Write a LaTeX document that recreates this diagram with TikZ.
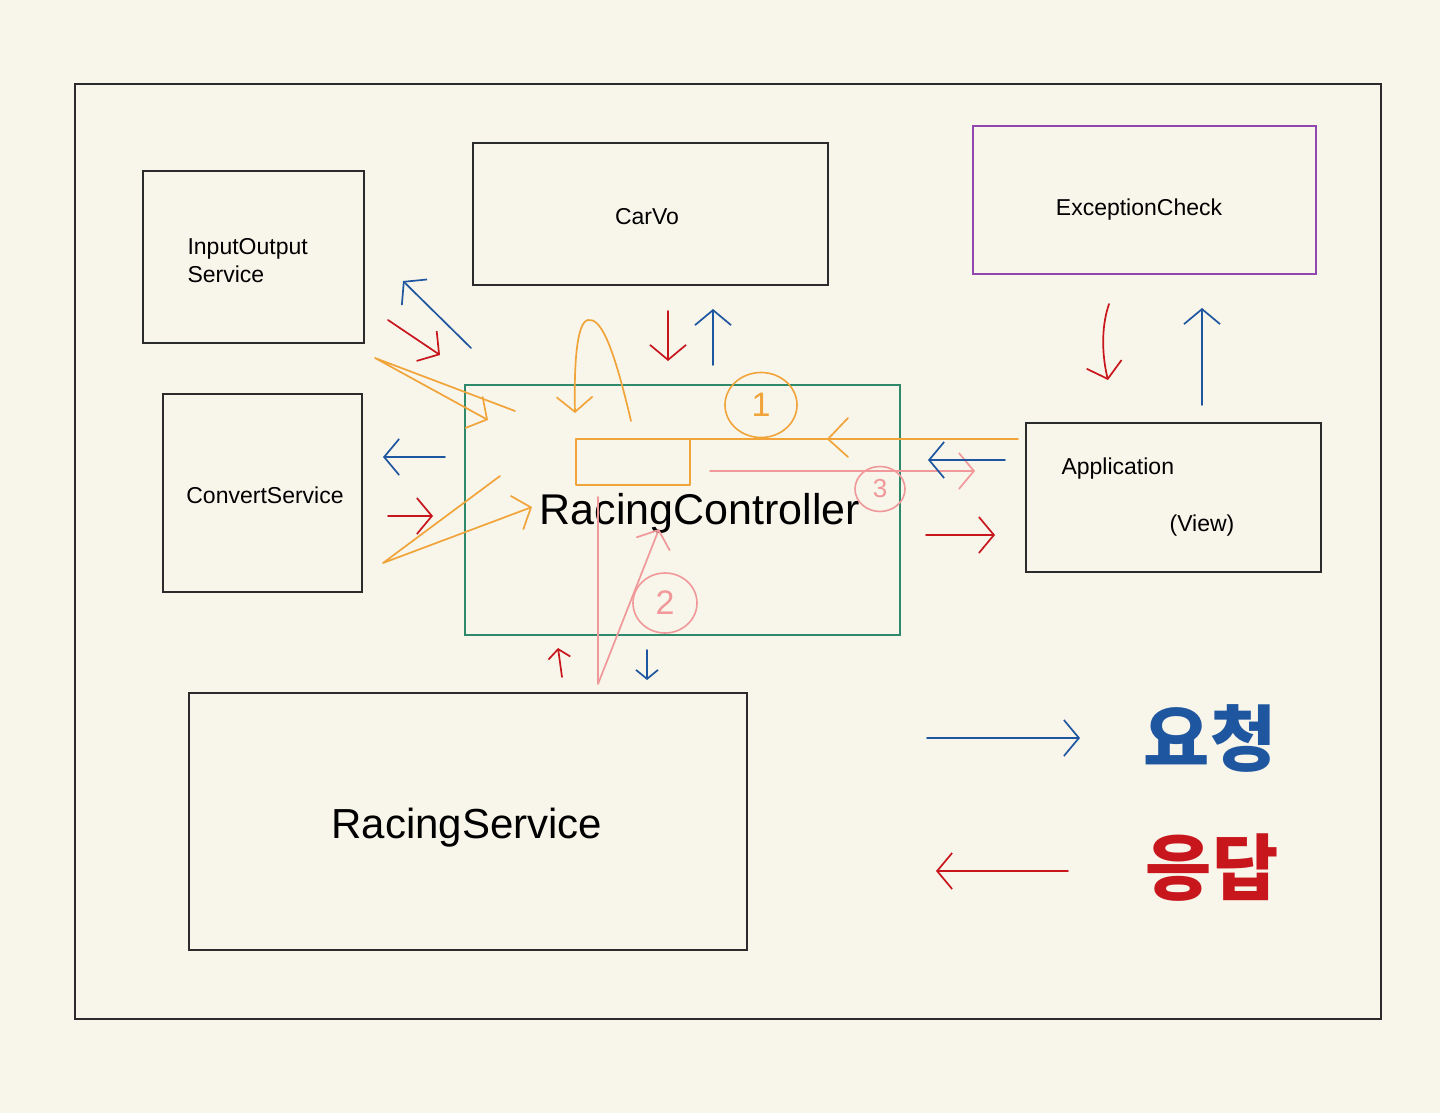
\documentclass[tikz,border=0pt]{standalone}
\usepackage{fontspec}
\setmainfont{Liberation Sans}
\newfontfamily\krfont{Noto Sans CJK KR}
\usetikzlibrary{arrows.meta,shapes.geometric}
\definecolor{crema}{HTML}{F8F5EA}
\definecolor{linea}{HTML}{2B2B2B}
\definecolor{azul}{HTML}{1F56A0}
\definecolor{rojo}{HTML}{C8161D}
\definecolor{naranja}{HTML}{F0A43A}
\definecolor{rosa}{HTML}{F0989A}
\definecolor{verde}{HTML}{2E8A6A}
\definecolor{morado}{HTML}{9146B0}

\begin{document}
\begin{tikzpicture}[x=1pt, y=-1pt, font=\fontsize{23}{28}\selectfont,
    box/.style={draw=linea, line width=1.5pt, inner sep=0pt},
    mano/.style={line width=1.7pt, line cap=round, line join=round},
    tip/.style={-{Straight Barb[length=15pt,width=36pt]}},
    smalltip/.style={-{Straight Barb[length=9pt,width=22pt]}},
    num/.style={ellipse, draw, line width=1.6pt, inner sep=0pt, font=\fontsize{34}{34}\selectfont}]
        \fill[crema] (0,0) rectangle (1440,1113);
        \draw[draw=linea, line width=1.5pt] (75,84) rectangle (1381,1019);
        % cajas
        \node[box, minimum width=221pt, minimum height=172pt] (io) at (253.5,257) {};
        \node[anchor=west, align=left] (iolabel) at (184,261) {InputOutput\\Service};
        \node[box, minimum width=355pt, minimum height=142pt] (carvo) at (650.5,214) {};
        \node (carvolabel) at (647,217) {CarVo};
        \node[box, draw=morado, minimum width=343pt, minimum height=148pt] (exc) at (1144.5,200) {};
        \node (exclabel) at (1139,210) {ExceptionCheck};
        \node[box, minimum width=199pt, minimum height=198pt] (conv) at (262.5,493) {};
        \node (convlabel) at (265,495) {ConvertService};
        \node[box, draw=verde, minimum width=435pt, minimum height=250pt] (ctrl) at (682.5,510) {};
        \node[font=\fontsize{43}{48}\selectfont] (ctrllabel) at (700,513) {RacingController};
        \node[box, minimum width=295pt, minimum height=149pt] (app) at (1173.5,497.5) {};
        \node[anchor=west] (applabel) at (1058,469) {Application};
        \node (viewlabel) at (1202,526) {(View)};
        \node[box, minimum width=558pt, minimum height=257pt] (svc) at (468,821.5) {};
        \node[font=\fontsize{42}{46}\selectfont] (svclabel) at (467,828) {RacingService};
        % flechas a mano
        \draw[mano, azul, tip] (471,348) -- (403,281);
        \draw[mano, rojo, tip] (388,320) -- (440,355);
        \draw[mano, naranja, tip] (515,411) -- (375,358) -- (488,420);
        \draw[mano, naranja, tip] (631,421) .. controls (612,340) and (600,318) .. (588,320)
          .. controls (576,322) and (574,370) .. (575,413);
        \draw[mano, rojo, tip] (668,311) -- (668,361);
        \draw[mano, azul, tip] (713,365) -- (713,309);
        \node[num, draw=naranja, text=naranja, minimum width=72pt, minimum height=65pt] (uno) at (761,405) {1};
        \draw[mano, naranja] (576,439) rectangle (690,485);
        \draw[mano, naranja] (690,439) -- (1018,439);
        \draw[mano, naranja] (848,418) -- (828,439) -- (848,457);
        \draw[mano, rosa, tip] (710,471) -- (975,471);
        \node[num, draw=rosa, text=rosa, minimum width=50pt, minimum height=45pt, font=\fontsize{26}{26}\selectfont] (tres) at (880,489) {3};
        \draw[mano, azul, tip] (1005,460) -- (928,460);
        \draw[mano, rojo, tip] (926,535) -- (995,535);
        \draw[mano, rojo, tip] (1109,304) .. controls (1100,330) and (1103,360) .. (1108,380);
        \draw[mano, azul, tip] (1202,405) -- (1202,308);
        \draw[mano, azul, tip] (445,457) -- (383,457);
        \draw[mano, rojo, tip] (388,516) -- (433,516);
        \draw[mano, naranja, tip] (500,476) -- (383,563) -- (532,507);
        \draw[mano, rosa, tip] (598,497) -- (598,684) -- (659,529);
        \node[num, draw=rosa, text=rosa, minimum width=64pt, minimum height=60pt] (dos) at (665,603) {2};
        \draw[mano, rojo, smalltip] (562,677) -- (558,648);
        \draw[mano, azul, smalltip] (647,650) -- (647,680);
        % leyenda
        \draw[mano, azul, tip] (927,738) -- (1080,738);
        \node[font=\krfont\bfseries\fontsize{72}{72}\selectfont, text=azul] (req) at (1210,738) {요청};
        \draw[mano, rojo, tip] (1068,871) -- (936,871);
        \node[font=\krfont\bfseries\fontsize{72}{72}\selectfont, text=rojo] (resp) at (1212,868) {응답};
      \end{tikzpicture}
\end{document}
